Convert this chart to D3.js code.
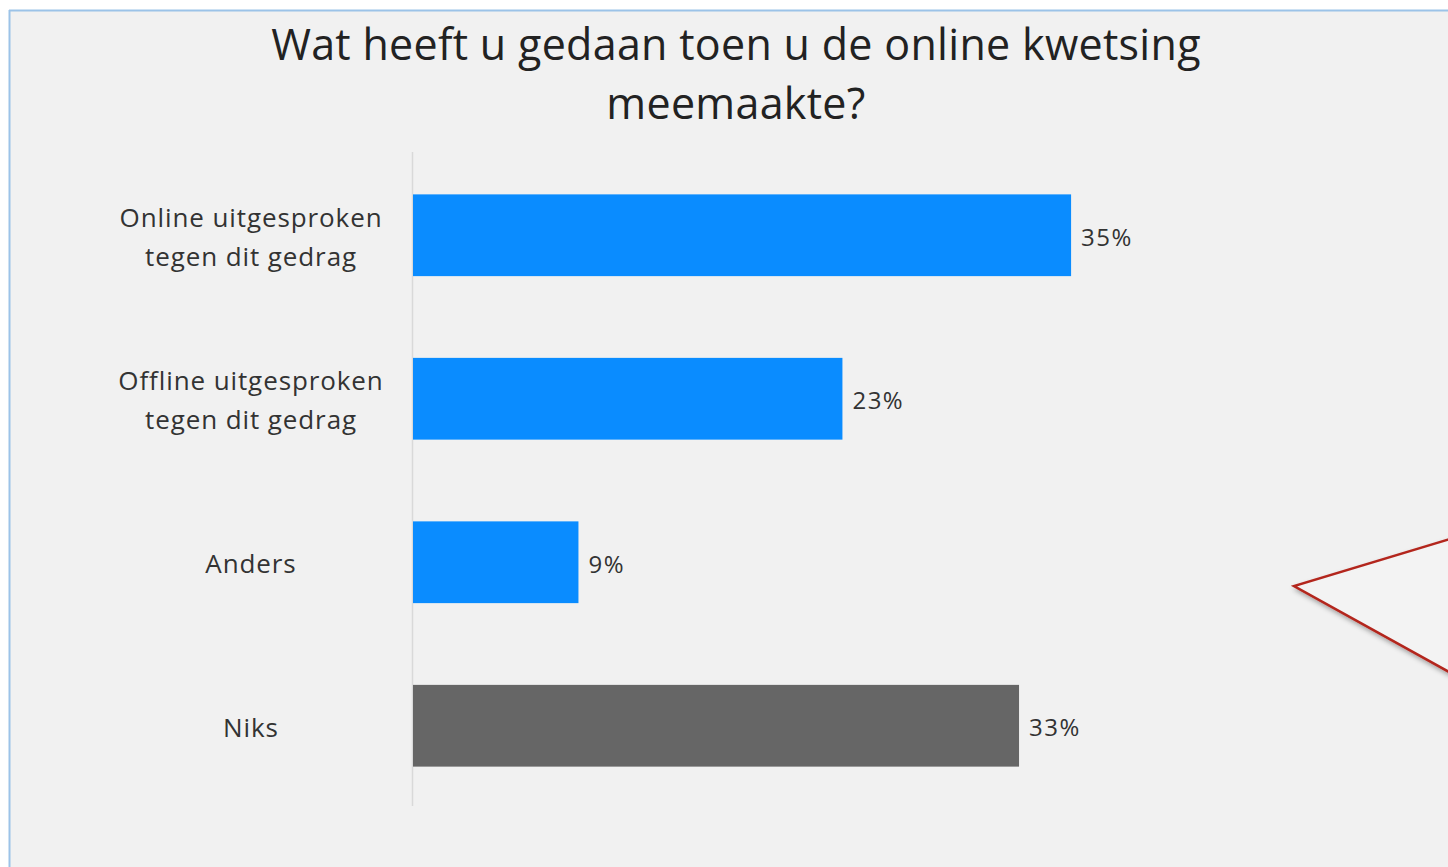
<!DOCTYPE html>
<html><head><meta charset="utf-8">
<script src="https://cdn.jsdelivr.net/npm/d3@7"></script>
<style>html,body{margin:0;padding:0;background:#fff;}svg{display:block;}</style>
</head><body>
<script>
const categories = [["Online uitgesproken","tegen dit gedrag"],["Offline uitgesproken","tegen dit gedrag"],["Anders"],["Niks"]];
const values = [0.354, 0.231, 0.089, 0.326];
const barColors = ["#0a8cff","#0a8cff","#0a8cff","#666666"];
const titleLines = ["Wat heeft u gedaan toen u de online kwetsing","meemaakte?"];

const W = 1448, H = 867;
const font = "'Open Sans', 'Noto Sans', sans-serif";
const svg = d3.select("body").append("svg").attr("width", W).attr("height", H);

// frame
svg.append("rect").attr("x",0).attr("y",0).attr("width",W).attr("height",H).attr("fill","#fff");
svg.append("rect").attr("x",10).attr("y",11).attr("width",W).attr("height",H).attr("fill","#f1f1f1");
svg.append("line").attr("x1",9.5).attr("x2",9.5).attr("y1",10).attr("y2",H).attr("stroke","#9cc3e8").attr("stroke-width",2);
svg.append("line").attr("x1",9).attr("x2",W).attr("y1",10.5).attr("y2",10.5).attr("stroke","#9cc3e8").attr("stroke-width",2);

// title
svg.append("text").attr("x",736).attr("y",43).attr("text-anchor","middle").attr("dominant-baseline","central")
  .attr("font-family",font).attr("font-size",43).attr("letter-spacing",0.3).attr("fill","#222222")
  .selectAll("tspan").data(titleLines).join("tspan")
  .attr("x",736).attr("dy",(d,i)=> i===0?0:59).text(d=>d);

const x = d3.scaleLinear().domain([0,0.4]).range([413, 413+743.6]);
const y = d3.scaleBand().domain(d3.range(categories.length)).range([153.5, 807.5]).paddingInner(0.5).paddingOuter(0.25);

// axis line
svg.append("line").attr("x1",412.5).attr("x2",412.5).attr("y1",152).attr("y2",806).attr("stroke","#d9d9d9").attr("stroke-width",1.5);

svg.selectAll("rect.bar").data(values).join("rect").attr("class","bar")
  .attr("x",x(0)).attr("y",(d,i)=>y(i)).attr("width",d=>x(d)-x(0)).attr("height",y.bandwidth())
  .attr("fill",(d,i)=>barColors[i]);

const fmt = d3.format(".0%");
svg.selectAll("text.val").data(values).join("text").attr("class","val")
  .attr("x",d=>x(d)+10).attr("y",(d,i)=>y(i)+y.bandwidth()/2+1).attr("dominant-baseline","central")
  .attr("font-family",font).attr("font-size",24).attr("letter-spacing",1.5).attr("fill","#333333").text(d=>fmt(d));

const lab = svg.selectAll("text.cat").data(categories).join("text").attr("class","cat")
  .attr("font-family",font).attr("font-size",26).attr("letter-spacing",0.9).attr("fill","#333333").attr("text-anchor","middle")
  .attr("dominant-baseline","central");
lab.selectAll("tspan").data((d,i)=>d.map((t,j)=>({t,j,n:d.length,i}))).join("tspan")
  .attr("x",251).attr("y",d=>y(d.i)+y.bandwidth()/2 + 1 + (d.j-(d.n-1)/2)*39).text(d=>d.t);

// callout
const defs = svg.append("defs");
const f = defs.append("filter").attr("id","sh").attr("x","-20%").attr("y","-20%").attr("width","140%").attr("height","140%");
f.append("feDropShadow").attr("dx",2).attr("dy",3).attr("stdDeviation",2.5).attr("flood-color","#000").attr("flood-opacity",0.35);
svg.append("path").attr("d","M1460,536 L1294,586 L1460,678")
  .attr("fill","#f3f3f3").attr("stroke","#b3261e").attr("stroke-width",2.5).attr("stroke-linejoin","miter").attr("filter","url(#sh)");
</script>
</body></html>
